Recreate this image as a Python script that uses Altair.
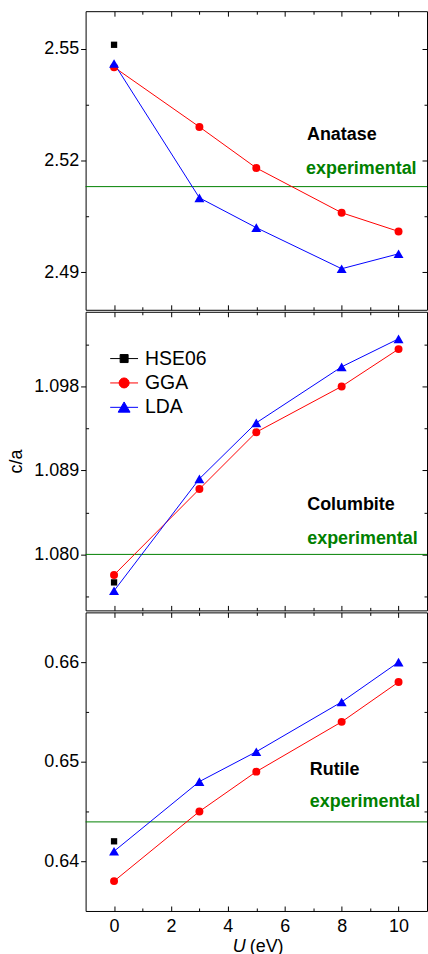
import altair as alt
import pandas as pd

# Hubbard U values (eV) used for GGA+U / LDA+U
u_values = [0, 3, 5, 8, 10]

# c/a ratios for each TiO2 polymorph
anatase_gga = [2.545, 2.529, 2.518, 2.506, 2.501]
anatase_lda = [2.546, 2.510, 2.502, 2.491, 2.495]
anatase_hse06 = 2.551
anatase_exp = 2.513

columbite_gga = [1.0778, 1.0870, 1.0931, 1.0980, 1.1020]
columbite_lda = [1.0761, 1.0881, 1.0941, 1.1001, 1.1031]
columbite_hse06 = 1.0770
columbite_exp = 1.080

rutile_gga = [0.638, 0.645, 0.649, 0.654, 0.658]
rutile_lda = [0.641, 0.648, 0.651, 0.656, 0.660]
rutile_hse06 = 0.642
rutile_exp = 0.644

series_names = ["HSE06", "GGA", "LDA"]
series_colors = ["#000000", "#ff0000", "#0000ff"]

x_major = [0, 2, 4, 6, 8, 10]
x_minor = [1, 3, 5, 7, 9]

FONT = "Liberation Sans"
GREEN = "#008000"
W, H = 343, 300

# legend glyphs: a short line with the marker on top of it
legend_paths = [
    "M-1.5,0H1.5M-0.43,-0.43H0.43V0.43H-0.43Z",
    "M-1.5,0H1.5M-0.54,0A0.54,0.54,0,1,1,0.54,0A0.54,0.54,0,1,1,-0.54,0Z",
    "M-1.5,0H1.5M0,-0.58L0.64,0.52H-0.64Z",
]


def tick_axis(orient, values, size, offset):
    """Frame axis with inward ticks only (no labels, no domain line)."""
    return alt.Axis(orient=orient, values=values, tickSize=size, offset=offset,
                    labels=False, domain=False, grid=False, title=None,
                    tickColor="black", tickWidth=1)


def build_panel(gga, lda, hse, exp, y_domain, y_major, y_minor, y_fmt,
                name, name_x, name_y, exp_x, exp_y,
                bottom=False, y_title=None, with_legend=False, rule_shift=0):
    data = pd.DataFrame({
        "U": u_values + u_values + [0],
        "ca": gga + lda + [hse],
        "series": ["GGA"] * len(u_values) + ["LDA"] * len(u_values) + ["HSE06"],
    })
    xs = alt.Scale(domain=[-1, 11], nice=False, zero=False)
    ys = alt.Scale(domain=y_domain, nice=False, zero=False)
    base = alt.Chart(data)

    def xenc(axis=None):
        return alt.X("U:Q", scale=xs, axis=axis)

    def yenc(axis=None):
        return alt.Y("ca:Q", scale=ys, axis=axis)

    left_kw = dict(orient="left", values=y_major, tickSize=5, domain=False,
                   grid=False, tickColor="black", labelColor="black",
                   labelFont=FONT, labelFontSize=18, format=y_fmt, labelPadding=2)
    if y_title is not None:
        left_axis = alt.Axis(title=y_title, titleFont=FONT, titleFontSize=18,
                             titleFontWeight="normal", titlePadding=8,
                             titleColor="black", **left_kw)
    else:
        left_axis = alt.Axis(title=None, **left_kw)

    if bottom:
        bottom_major = alt.Axis(orient="bottom", values=x_major, tickSize=5, offset=-5,
                                domain=False, grid=False, tickColor="black", labels=True,
                                labelColor="black", labelFont=FONT, labelFontSize=18,
                                labelPadding=7, format="d", title=None, labelFlush=False)
    else:
        bottom_major = tick_axis("bottom", x_major, 5, -5)

    # invisible layers that only carry the frame axes
    carriers = [
        base.mark_point(opacity=0).encode(x=xenc(bottom_major), y=yenc(left_axis)),
        base.mark_point(opacity=0).encode(
            x=xenc(tick_axis("bottom", x_minor, 3, -3)),
            y=yenc(tick_axis("left", y_minor, 3, -3))),
        base.mark_point(opacity=0).encode(
            x=xenc(tick_axis("top", x_major, 5, -5)),
            y=yenc(tick_axis("right", y_major, 5, -5))),
        base.mark_point(opacity=0).encode(
            x=xenc(tick_axis("top", x_minor, 3, -3)),
            y=yenc(tick_axis("right", y_minor, 3, -3))),
    ]

    # half-pixel shift keeps the 1px rule crisp when it lands on a pixel edge
    exp_rule = alt.Chart(pd.DataFrame({"ca": [exp]})).mark_rule(
        color=GREEN, strokeWidth=1, yOffset=rule_shift).encode(y=yenc())

    line_gga = base.transform_filter(alt.datum.series == "GGA").mark_line(
        color="#ff0000", strokeWidth=1).encode(x=xenc(), y=yenc())
    line_lda = base.transform_filter(alt.datum.series == "LDA").mark_line(
        color="#0000ff", strokeWidth=1).encode(x=xenc(), y=yenc())
    pts_hse = base.transform_filter(alt.datum.series == "HSE06").mark_point(
        shape="square", filled=True, size=40, color="#000000", opacity=1).encode(x=xenc(), y=yenc())
    pts_gga = base.transform_filter(alt.datum.series == "GGA").mark_point(
        shape="circle", filled=True, size=64, color="#ff0000", opacity=1).encode(x=xenc(), y=yenc())
    pts_lda = base.transform_filter(alt.datum.series == "LDA").mark_point(
        shape="triangle-up", filled=True, size=100, color="#0000ff", opacity=1).encode(x=xenc(), y=yenc())

    one = pd.DataFrame({"k": [0]})
    name_text = alt.Chart(one).mark_text(
        text=name, font=FONT, fontSize=18, fontWeight="bold", color="black",
        align="left", baseline="middle").encode(
        x=alt.XDatum(name_x, type="quantitative", scale=xs, axis=None),
        y=alt.YDatum(name_y, type="quantitative", scale=ys, axis=None))
    exp_text = alt.Chart(one).mark_text(
        text="experimental", font=FONT, fontSize=18, fontWeight="bold", color=GREEN,
        align="left", baseline="middle").encode(
        x=alt.XDatum(exp_x, type="quantitative", scale=xs, axis=None),
        y=alt.YDatum(exp_y, type="quantitative", scale=ys, axis=None))

    layers = carriers + [exp_rule, line_gga, line_lda, pts_hse, pts_gga, pts_lda,
                         name_text, exp_text]

    if with_legend:
        leg = alt.Legend(orient="none", legendX=28.7, legendY=37, title=None,
                         labelFont=FONT, labelFontSize=19.5, labelColor="black",
                         symbolSize=348, symbolStrokeWidth=1, labelOffset=11,
                         rowPadding=4.5, padding=0, symbolOpacity=1)
        legend_layer = base.transform_filter("false").mark_point(filled=True, opacity=1).encode(
            x=xenc(), y=yenc(),
            color=alt.Color("series:N", scale=alt.Scale(domain=series_names, range=series_colors), legend=leg),
            stroke=alt.Stroke("series:N", scale=alt.Scale(domain=series_names, range=series_colors), legend=leg),
            shape=alt.Shape("series:N", scale=alt.Scale(domain=series_names, range=legend_paths), legend=leg),
        )
        layers.append(legend_layer)

    if bottom:
        # x-axis title: italic U followed by the unit
        layers.append(alt.Chart(one).mark_text(
            text="U", font=FONT, fontSize=18, fontStyle="italic", color="black",
            align="right", baseline="middle").encode(
            x=alt.XDatum(4.63, type="quantitative", scale=xs, axis=None), y=alt.value(336)))
        layers.append(alt.Chart(one).mark_text(
            text="(eV)", font=FONT, fontSize=18, color="black",
            align="left", baseline="middle").encode(
            x=alt.XDatum(4.77, type="quantitative", scale=xs, axis=None), y=alt.value(336)))

    return alt.layer(*layers).resolve_axis(x="independent", y="independent").properties(
        width=W, height=H)


anatase = build_panel(anatase_gga, anatase_lda, anatase_hse06, anatase_exp,
                      [2.48, 2.56], [2.49, 2.52, 2.55], [2.505, 2.535], ".2f",
                      "Anatase", 6.78, 2.5267, 6.75, 2.5177)
columbite = build_panel(columbite_gga, columbite_lda, columbite_hse06, columbite_exp,
                        [1.074, 1.106], [1.080, 1.089, 1.098], [1.0755, 1.0845, 1.0935, 1.1025], ".3f",
                        "Columbite", 6.79, 1.0853, 6.79, 1.0816,
                        y_title="c/a", with_legend=True)
rutile = build_panel(rutile_gga, rutile_lda, rutile_hse06, rutile_exp,
                     [0.635, 0.665], [0.64, 0.65, 0.66], [0.645, 0.655], ".2f",
                     "Rutile", 6.88, 0.6492, 6.88, 0.6459, bottom=True, rule_shift=0.5)

chart = alt.vconcat(anatase, columbite, rutile, spacing=0).resolve_scale(
    color="independent", stroke="independent", shape="independent"
).properties(
    padding={"left": 7, "top": 8, "right": 0, "bottom": 0},
    background="white",
).configure_view(stroke="black", strokeWidth=1)

chart.save("out.html", embed_options={"renderer": "svg", "actions": False})
